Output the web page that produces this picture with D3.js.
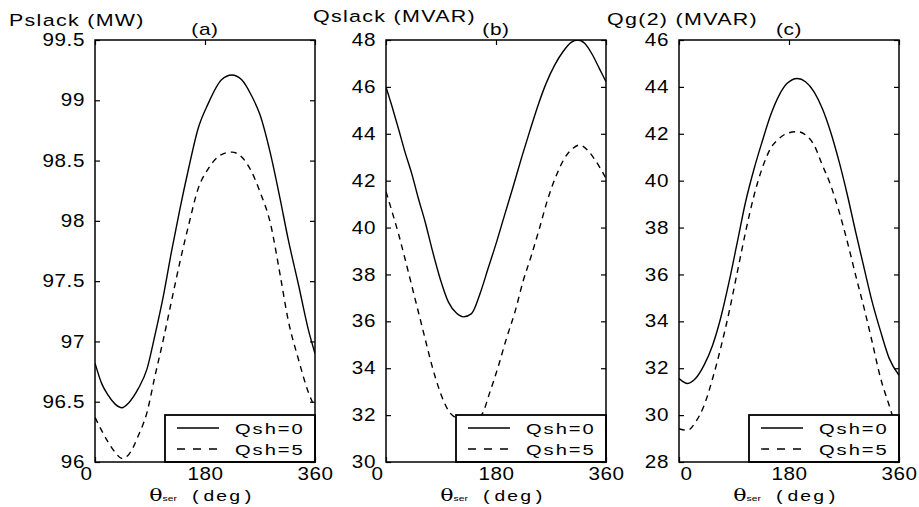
<!DOCTYPE html>
<html lang="en">
<head>
<meta charset="utf-8"/>
<title>Pslack, Qslack, Qg(2) vs theta ser</title>
<script src="https://d3js.org/d3.v7.min.js"></script>
<style>
  body { margin: 0; background: #fff; }
  svg text { font-family: "Liberation Sans", Arial, sans-serif; fill: #000; }
</style>
</head>
<body>
<div id="chart"></div>
<script>
// values (angle in deg)
var xTicks = [0, 180, 360];
var legendNames = ["Qsh=0", "Qsh=5"];
var titles = ["Pslack (MW)", "Qslack (MVAR)", "Qg(2) (MVAR)"];
var letters = ["(a)", "(b)", "(c)"];

// (a) Pslack
var angA = [0, 11, 22, 33, 44, 55, 71, 85, 98, 112, 125, 139, 153, 169, 185, 207, 224, 240, 256, 270, 287, 303, 316, 333, 349, 360];
var pslack0 = [96.82, 96.65, 96.55, 96.48, 96.45, 96.49, 96.61, 96.77, 97.05, 97.38, 97.74, 98.10, 98.43, 98.77, 98.97, 99.17, 99.21, 99.17, 99.04, 98.88, 98.56, 98.18, 97.85, 97.47, 97.10, 96.90];
var pslack5 = [96.37, 96.26, 96.16, 96.08, 96.03, 96.06, 96.22, 96.41, 96.71, 97.02, 97.33, 97.66, 97.96, 98.27, 98.43, 98.55, 98.57, 98.53, 98.41, 98.24, 97.98, 97.55, 97.18, 96.85, 96.58, 96.45];
var yTicksA = [96, 96.5, 97, 97.5, 98, 98.5, 99, 99.5];

// (b) Qslack
var angB0 = [0, 10, 21, 31, 42, 53, 64, 75, 88.5, 102, 116, 126.5, 140, 154, 167, 181, 194, 208, 221.5, 235, 249, 262, 276, 289.5, 303, 314, 325, 338, 349, 360];
var qslack0 = [46.0, 45.15, 44.16, 43.23, 42.31, 41.24, 40.25, 39.11, 37.83, 36.83, 36.33, 36.19, 36.33, 37.19, 38.25, 39.39, 40.53, 41.74, 42.95, 44.09, 45.23, 46.15, 46.93, 47.50, 47.90, 48.0, 47.86, 47.36, 46.79, 46.22];
var angB5 = [0, 10, 21, 31, 42, 53, 64, 75, 88.5, 102, 116, 126.5, 140, 156, 170, 184, 197, 211, 224, 238, 251, 265, 279, 292, 306, 316.5, 330, 344, 360];
var qslack5 = [41.53, 40.67, 39.68, 38.68, 37.54, 36.40, 35.26, 34.13, 32.99, 32.20, 31.85, 31.70, 31.80, 32.00, 32.98, 34.10, 35.26, 36.40, 37.68, 38.82, 39.96, 41.24, 42.24, 42.95, 43.38, 43.52, 43.30, 42.81, 42.10];
var yTicksB = [30, 32, 34, 36, 38, 40, 42, 44, 46, 48];

// (c) Qg(2)
var angC0 = [0, 14, 27, 41, 55, 68, 82, 95.5, 109, 123, 136, 150, 164, 177, 193.6, 207, 221, 234.5, 248, 262, 275.5, 289, 303, 316, 330, 344, 360];
var qg0 = [31.56, 31.35, 31.56, 32.13, 32.98, 34.12, 35.69, 37.39, 39.10, 40.52, 41.66, 42.80, 43.65, 44.15, 44.36, 44.22, 43.79, 43.08, 42.09, 40.81, 39.39, 37.82, 36.26, 34.84, 33.56, 32.42, 31.70];
var angC5 = [0, 14, 27, 41, 55, 68, 82, 95.5, 109, 123, 136, 150, 164, 177, 193.6, 207, 221, 234.5, 248, 262, 275.5, 289, 303, 316, 330, 344, 352, 360];
var qg5 = [29.42, 29.35, 29.70, 30.41, 31.56, 32.84, 34.40, 36.11, 37.82, 39.39, 40.52, 41.38, 41.80, 42.02, 42.09, 41.95, 41.52, 40.67, 39.82, 38.68, 37.39, 35.97, 34.55, 33.13, 31.56, 30.41, 29.75, 29.20];
var yTicksC = [28, 30, 32, 34, 36, 38, 40, 42, 44, 46];

var w = 919, h = 507;
var plotTop = 40, plotBottom = 462, pw = 220;
var SX = 1.3;

var panels = [
  {left: 95,  ticks: yTicksA, s0: [angA, pslack0],  s5: [angA, pslack5], tx: 9,   ty: 26, zeroDx: -9},
  {left: 386, ticks: yTicksB, s0: [angB0, qslack0], s5: [angB5, qslack5], tx: 313, ty: 22, zeroDx: -9},
  {left: 679, ticks: yTicksC, s0: [angC0, qg0],     s5: [angC5, qg5],     tx: 607, ty: 25, zeroDx: 7}
];

var svg = d3.select("#chart").append("svg")
    .attr("width", w).attr("height", h);

// stretched text like the original screenshot
function wideText(g, x, y, str, size, anchor, ls) {
  return g.append("text")
    .attr("transform", "translate(" + x + "," + y + ") scale(" + SX + ",1)")
    .attr("text-anchor", anchor || "start")
    .style("font-size", size + "px")
    .style("letter-spacing", (ls || 0) + "px")
    .text(str);
}

var line = d3.line().curve(d3.curveMonotoneX);

panels.forEach(function(p, i) {
  var x = d3.scaleLinear().domain([0, 360]).range([p.left, p.left + pw]);
  var y = d3.scaleLinear().domain([p.ticks[0], p.ticks[p.ticks.length - 1]]).range([plotBottom, plotTop]);
  var g = svg.append("g");

  svg.append("clipPath").attr("id", "clip" + i)
    .append("rect").attr("x", p.left).attr("y", plotTop).attr("width", pw).attr("height", plotBottom - plotTop);

  // curves
  [p.s0, p.s5].forEach(function(s, k) {
    var pts = s[0].map(function(a, j) { return [x(a), y(s[1][j])]; });
    g.append("path")
      .attr("d", line(pts))
      .attr("clip-path", "url(#clip" + i + ")")
      .attr("fill", "none")
      .attr("stroke", "#000")
      .attr("stroke-width", 1.4)
      .attr("stroke-dasharray", k ? "6,5" : null);
  });

  // axes, ticks pointing inwards
  var yl = g.append("g").attr("transform", "translate(" + p.left + ",0)")
    .call(d3.axisLeft(y).tickValues(p.ticks).tickSize(-5).tickPadding(10).tickFormat(function(d) { return String(d); }));
  g.append("g").attr("transform", "translate(" + (p.left + pw) + ",0)")
    .call(d3.axisRight(y).tickValues(p.ticks).tickSize(-5).tickFormat(""));
  var xb = g.append("g").attr("transform", "translate(0," + plotBottom + ")")
    .call(d3.axisBottom(x).tickValues(xTicks).tickSize(-5).tickPadding(6).tickFormat(d3.format("d")));
  g.append("g").attr("transform", "translate(0," + plotTop + ")")
    .call(d3.axisTop(x).tickValues(xTicks).tickSize(-5).tickFormat(""));

  g.selectAll(".domain").remove();
  g.selectAll(".tick line").attr("stroke", "#000").attr("stroke-width", 1.2);

  yl.selectAll("text")
    .attr("x", -10 / 1.18)
    .attr("transform", "scale(1.18,1)")
    .style("font-size", "17.5px").style("letter-spacing", "0.5px")
    .style("font-family", '"Liberation Sans", Arial, sans-serif');
  xb.selectAll("text")
    .attr("x", function(d) { return d === 0 ? p.zeroDx / 1.18 : 0; })
    .attr("transform", "scale(1.18,1)")
    .style("font-size", "17.5px").style("letter-spacing", "0.5px")
    .style("font-family", '"Liberation Sans", Arial, sans-serif');

  // legend
  var lw = 150, lh = 47;
  var lx = p.left + pw - lw, ly = plotBottom - lh;
  var lg = g.append("g");
  lg.append("rect").attr("x", lx).attr("y", ly).attr("width", lw).attr("height", lh)
    .attr("fill", "#fff").attr("stroke", "#000").attr("stroke-width", 1.8);
  legendNames.forEach(function(name, k) {
    var yy = ly + 13 + k * 21;
    lg.append("line").attr("x1", lx + 12).attr("x2", lx + 54).attr("y1", yy).attr("y2", yy)
      .attr("stroke", "#000").attr("stroke-width", 1.3)
      .attr("stroke-dasharray", k ? "8,8" : null);
    wideText(lg, lx + 70, yy + 5.5, name, 15.5, "start", 1.5);
  });

  // plot box
  g.append("rect").attr("x", p.left).attr("y", plotTop).attr("width", pw).attr("height", plotBottom - plotTop)
    .attr("fill", "none").attr("stroke", "#000").attr("stroke-width", 1.5);

  // titles
  wideText(g, p.tx, p.ty, titles[i], 16.5, "start", 1);
  wideText(g, p.left + pw / 2, 35, letters[i], 16, "middle", 0.5);

  // x label: theta_ser (deg)
  var xl = g.append("text")
    .attr("transform", "translate(" + (p.left + pw / 2 - 3) + ",501) scale(" + SX + ",1)")
    .attr("text-anchor", "middle");
  xl.append("tspan").style("font-family", '"DejaVu Serif", serif').style("font-size", "17px").text("θ");
  xl.append("tspan").style("font-size", "8px").text("ser");
  xl.append("tspan").style("font-family", '"Liberation Mono", monospace').style("font-size", "15px")
    .style("letter-spacing", "1px").text(" (deg)");
});
</script>
</body>
</html>
